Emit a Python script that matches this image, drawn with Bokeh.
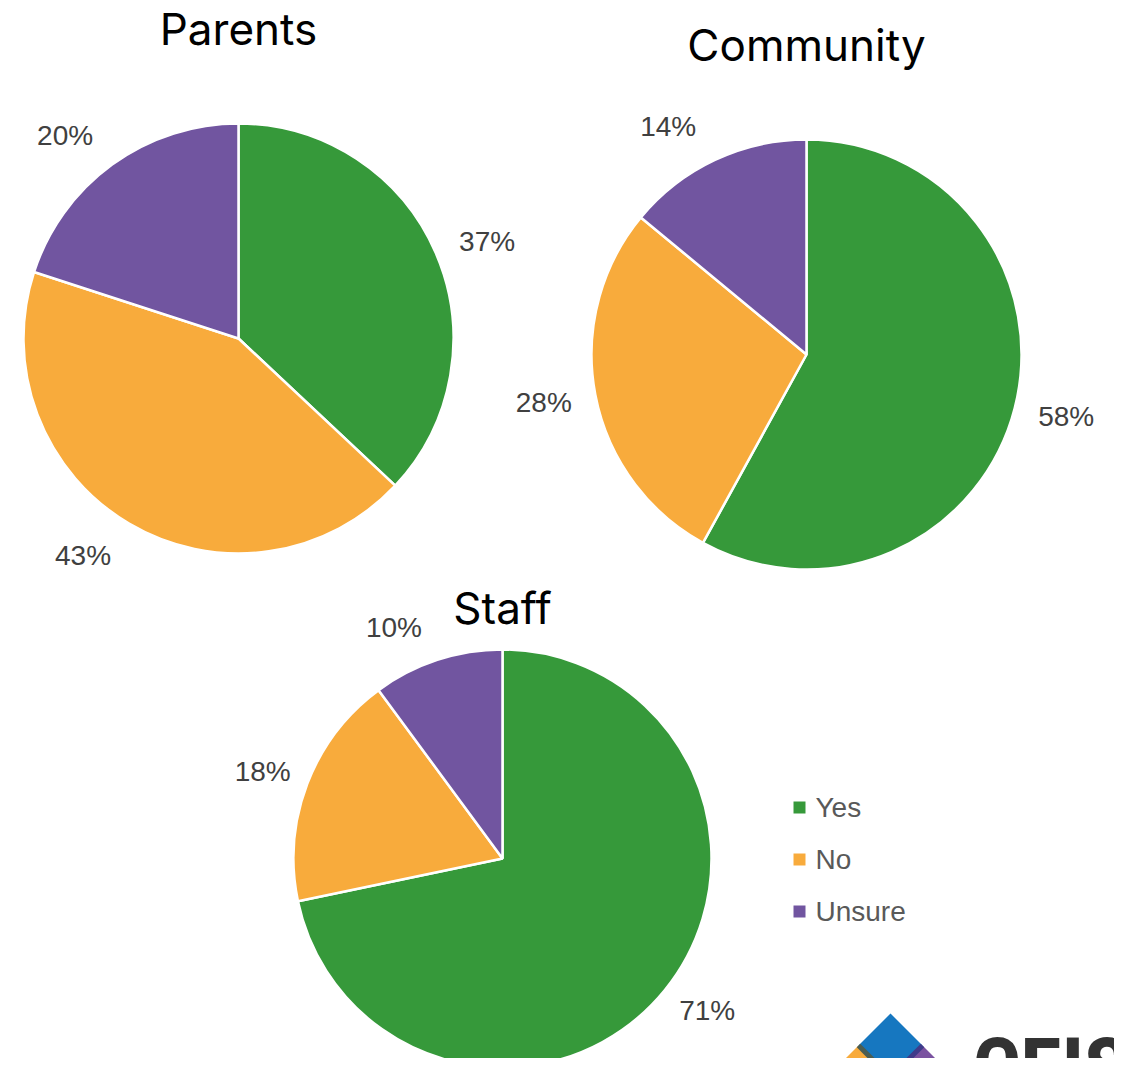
import math
from bokeh.plotting import figure
from bokeh.models import Range1d, ColumnDataSource
from bokeh.core.properties import value
from bokeh.embed import file_html
from bokeh.resources import INLINE

# ---------------- data ----------------
categories = ["Yes", "No", "Unsure"]
colors = ["#36993a", "#f8ab3c", "#7155a0"]
parents = [37, 43, 20]
community = [58, 28, 14]
staff = [71, 18, 10]
titles = ["Parents", "Community", "Staff"]

# ---------------- layout (image pixel coordinates) ----------------
W, H = 1114, 1058
IMG_H = 1066


def Y(v):
    return IMG_H - v


# label_nudge: small angular shifts (degrees) of the outside labels, as placed in the original
pies = [
    dict(vals=parents, cx=238, cy=338, r=215, ty=28, gap=52, nudge=[-2, -5, 4.5]),
    dict(vals=community, cx=806, cy=354, r=215, ty=44, gap=52, nudge=[1, -0.5, 6]),
    dict(vals=staff, cx=502, cy=858, r=209, ty=607, gap=46, nudge=[2.5, 1, 7]),
]

p = figure(width=W, height=H, output_backend="svg", toolbar_location=None,
           x_range=Range1d(0, W), y_range=Range1d(IMG_H - H, IMG_H),
           min_border=0, outline_line_color=None)
p.axis.visible = False
p.grid.visible = False
p.background_fill_color = "white"
p.border_fill_color = "white"

for pie, title in zip(pies, titles):
    vals = pie["vals"]
    total = float(sum(vals))
    a = math.pi / 2
    starts, ends, lx, ly, labels = [], [], [], [], []
    for v, nd in zip(vals, pie["nudge"]):
        sweep = 2 * math.pi * v / total
        b = a - sweep
        starts.append(b)
        ends.append(a)
        mid = (a + b) / 2 + math.radians(nd)
        d = pie["r"] + pie["gap"]
        lx.append(pie["cx"] + d * math.cos(mid))
        ly.append(Y(pie["cy"]) + d * math.sin(mid))
        labels.append(f"{v}%")
        a = b
    src = ColumnDataSource(dict(start=starts, end=ends, color=colors, cat=categories))
    p.wedge(x=pie["cx"], y=Y(pie["cy"]), radius=pie["r"], start_angle="start",
            end_angle="end", fill_color="color", line_color="white",
            line_width=2.5, source=src)
    p.text(x=lx, y=ly, text=labels, text_align="center", text_baseline="middle",
           text_font=value("Liberation Sans"), text_font_size="28px", text_color="#404040")
    p.text(x=[pie["cx"]], y=[Y(pie["ty"])], text=[title], text_align="center",
           text_baseline="middle", text_font=value("Inter"), text_font_size="44px",
           text_color="#000000")

# legend
leg_x, leg_y0, leg_dy = 799, 807, 52
for i, (c, name) in enumerate(zip(colors, categories)):
    yy = Y(leg_y0 + i * leg_dy)
    p.rect(x=[leg_x], y=[yy], width=12, height=12, fill_color=c, line_color=None)
    p.text(x=[leg_x + 16], y=[yy], text=[name], text_align="left", text_baseline="middle",
           text_font=value("Liberation Sans"), text_font_size="28px", text_color="#595959")

# logo (decoration, partly cut off by the page edge)
blue = [(890, 1013), (922, 1045), (890, 1077), (858, 1045)]
orange = [(858, 1045), (890, 1077), (865, 1102), (833, 1070)]
purple = [(922, 1045), (947, 1070), (915, 1102), (890, 1077)]
for poly, c in [(orange, "#f8ab3c"), (purple, "#7a52a0"), (blue, "#1677c0")]:
    p.patch([q[0] for q in poly], [Y(q[1]) for q in poly], fill_color=c, line_color=None)
p.line([858, 890], [Y(1045), Y(1077)], line_color="#4b5d52", line_width=5)
p.line([922, 890], [Y(1045), Y(1077)], line_color="#3f3a8a", line_width=5)
p.circle(x=[890], y=[Y(1084)], radius=20, fill_color="white", line_color=None)
p.text(x=[972], y=[Y(1018)], text=["CEISD"], text_align="left", text_baseline="top",
       text_font=value("Roboto Condensed"), text_font_style="bold", text_font_size="84px",
       text_color="#333333")

open("out.html", "w").write(file_html(p, INLINE))
